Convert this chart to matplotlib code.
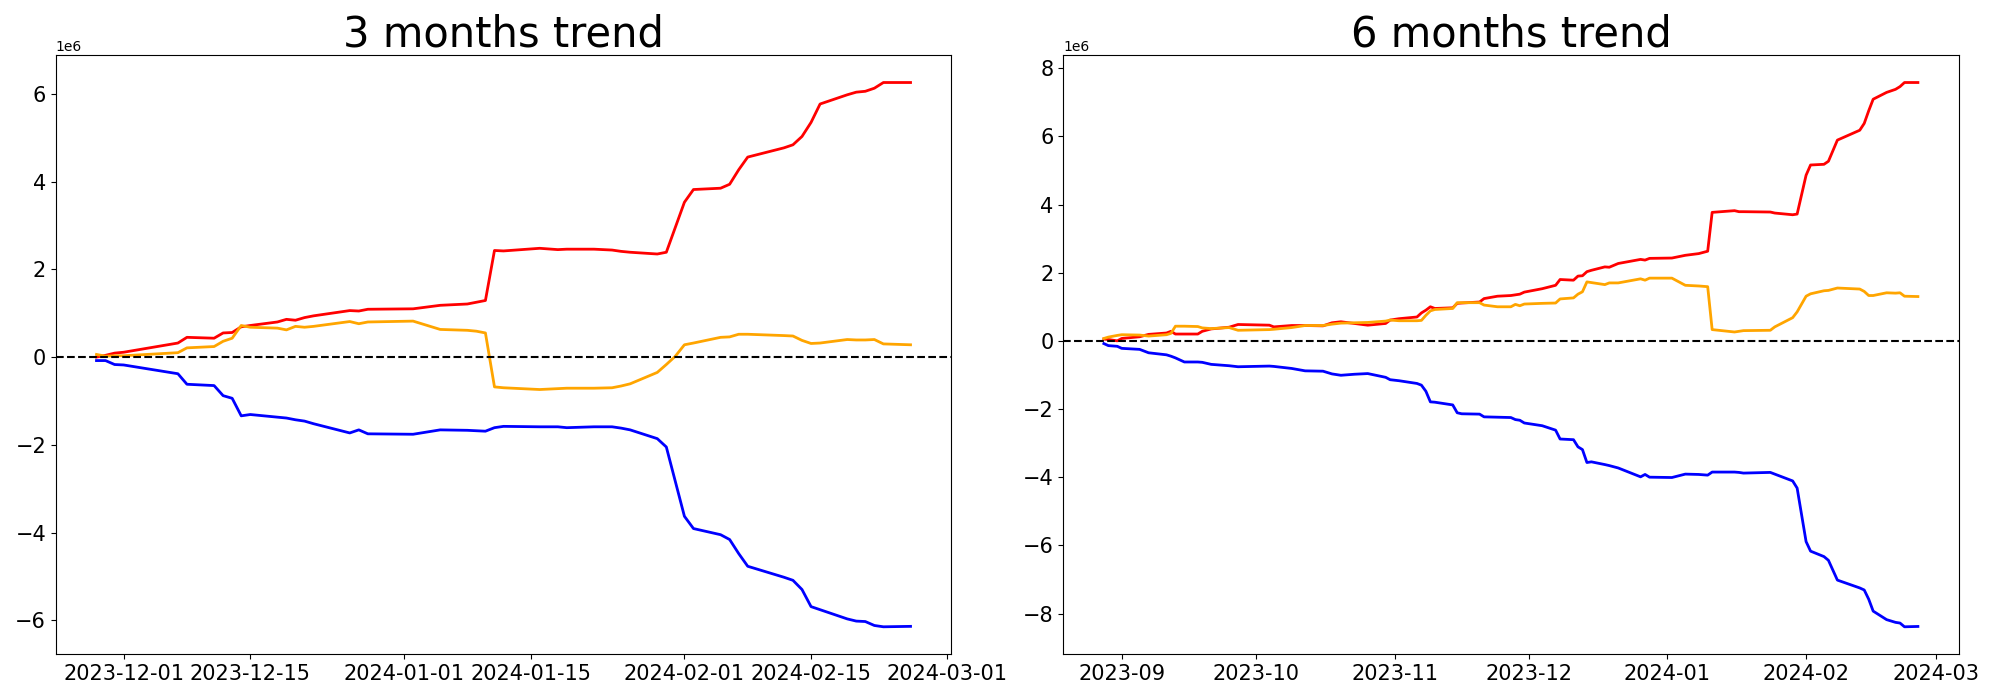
import matplotlib
matplotlib.use("Agg")
import matplotlib.pyplot as plt
import pandas as pd
import numpy as np

# ---------------- 3 months data (values in units of 1e6) ----------------
dates_3m = [
    "2023-11-28", "2023-11-29", "2023-11-30", "2023-12-01", "2023-12-07", "2023-12-08", "2023-12-11", "2023-12-12", "2023-12-13", "2023-12-14",
    "2023-12-15", "2023-12-18", "2023-12-19", "2023-12-20", "2023-12-21", "2023-12-22", "2023-12-26", "2023-12-27", "2023-12-28", "2024-01-02",
    "2024-01-05", "2024-01-08", "2024-01-09", "2024-01-10", "2024-01-11", "2024-01-12", "2024-01-16", "2024-01-18", "2024-01-19", "2024-01-22",
    "2024-01-24", "2024-01-25", "2024-01-26", "2024-01-29", "2024-01-30", "2024-01-31", "2024-02-01", "2024-02-02", "2024-02-05", "2024-02-06",
    "2024-02-07", "2024-02-08", "2024-02-12", "2024-02-13", "2024-02-14", "2024-02-15", "2024-02-16", "2024-02-19", "2024-02-20", "2024-02-21",
    "2024-02-22", "2024-02-23", "2024-02-26",
]
red_3m = [
    0.00, 0.04, 0.09, 0.11, 0.32, 0.45, 0.43, 0.55, 0.56, 0.69,
    0.72, 0.80, 0.86, 0.84, 0.90, 0.94, 1.06, 1.05, 1.09, 1.10,
    1.18, 1.21, 1.25, 1.29, 2.43, 2.42, 2.48, 2.45, 2.46, 2.46,
    2.44, 2.41, 2.39, 2.35, 2.39, 2.96, 3.53, 3.82, 3.85, 3.94,
    4.27, 4.56, 4.77, 4.84, 5.03, 5.35, 5.77, 5.98, 6.04, 6.06,
    6.13, 6.26, 6.26,
]
blue_3m = [
    -0.08, -0.08, -0.17, -0.18, -0.38, -0.62, -0.65, -0.88, -0.94, -1.34,
    -1.31, -1.37, -1.39, -1.43, -1.46, -1.52, -1.73, -1.66, -1.75, -1.76,
    -1.66, -1.67, -1.68, -1.69, -1.61, -1.58, -1.59, -1.59, -1.61, -1.59,
    -1.59, -1.62, -1.66, -1.86, -2.05, -2.84, -3.63, -3.91, -4.05, -4.16,
    -4.48, -4.77, -5.02, -5.09, -5.30, -5.69, -5.76, -5.97, -6.02, -6.03,
    -6.12, -6.15, -6.14,
]
orange_3m = [
    0.06, 0.02, 0.03, 0.03, 0.10, 0.21, 0.24, 0.36, 0.43, 0.72,
    0.68, 0.66, 0.62, 0.70, 0.68, 0.70, 0.81, 0.76, 0.80, 0.82,
    0.63, 0.61, 0.59, 0.55, -0.68, -0.70, -0.74, -0.72, -0.71, -0.71,
    -0.70, -0.66, -0.61, -0.35, -0.17, 0.02, 0.28, 0.32, 0.45, 0.46,
    0.52, 0.52, 0.49, 0.48, 0.38, 0.31, 0.32, 0.40, 0.39, 0.39,
    0.40, 0.30, 0.28,
]

# ---------------- 6 months data (values in units of 1e6) ----------------
dates_6m = [
    "2023-08-28", "2023-08-29", "2023-08-31", "2023-09-01", "2023-09-05", "2023-09-07", "2023-09-11", "2023-09-12", "2023-09-13", "2023-09-15",
    "2023-09-18", "2023-09-19", "2023-09-21", "2023-09-25", "2023-09-27", "2023-10-04", "2023-10-05", "2023-10-09", "2023-10-12", "2023-10-16",
    "2023-10-18", "2023-10-20", "2023-10-23", "2023-10-26", "2023-10-30", "2023-10-31", "2023-11-02", "2023-11-06", "2023-11-07", "2023-11-08",
    "2023-11-09", "2023-11-10", "2023-11-14", "2023-11-15", "2023-11-16", "2023-11-20", "2023-11-21", "2023-11-24", "2023-11-27", "2023-11-28",
    "2023-11-29", "2023-11-30", "2023-12-04", "2023-12-07", "2023-12-08", "2023-12-11", "2023-12-12", "2023-12-13", "2023-12-14", "2023-12-15",
    "2023-12-18", "2023-12-19", "2023-12-21", "2023-12-26", "2023-12-27", "2023-12-28", "2024-01-02", "2024-01-05", "2024-01-08", "2024-01-10",
    "2024-01-11", "2024-01-16", "2024-01-17", "2024-01-18", "2024-01-24", "2024-01-25", "2024-01-29", "2024-01-30", "2024-02-01", "2024-02-02",
    "2024-02-05", "2024-02-06", "2024-02-08", "2024-02-13", "2024-02-14", "2024-02-15", "2024-02-16", "2024-02-19", "2024-02-21", "2024-02-22",
    "2024-02-23", "2024-02-26",
]
red_6m = [
    0.05, 0.04, 0.00, 0.07, 0.12, 0.19, 0.23, 0.28, 0.20, 0.20,
    0.20, 0.28, 0.35, 0.40, 0.48, 0.46, 0.41, 0.45, 0.45, 0.44,
    0.53, 0.56, 0.51, 0.46, 0.51, 0.61, 0.65, 0.70, 0.82, 0.90,
    1.00, 0.95, 0.97, 1.10, 1.11, 1.14, 1.24, 1.31, 1.33, 1.35,
    1.37, 1.43, 1.53, 1.63, 1.80, 1.78, 1.90, 1.91, 2.03, 2.07,
    2.17, 2.16, 2.27, 2.39, 2.37, 2.42, 2.43, 2.51, 2.56, 2.63,
    3.77, 3.82, 3.79, 3.79, 3.78, 3.75, 3.70, 3.72, 4.86, 5.16,
    5.18, 5.27, 5.89, 6.18, 6.38, 6.75, 7.09, 7.29, 7.38, 7.46,
    7.58, 7.58,
]
blue_6m = [
    -0.08, -0.14, -0.16, -0.22, -0.25, -0.35, -0.41, -0.45, -0.50, -0.62,
    -0.62, -0.63, -0.69, -0.73, -0.76, -0.74, -0.75, -0.81, -0.88, -0.89,
    -0.97, -1.01, -0.98, -0.96, -1.07, -1.14, -1.17, -1.25, -1.30, -1.48,
    -1.79, -1.80, -1.88, -2.11, -2.14, -2.15, -2.23, -2.24, -2.25, -2.31,
    -2.33, -2.41, -2.49, -2.62, -2.88, -2.90, -3.11, -3.19, -3.57, -3.55,
    -3.63, -3.66, -3.73, -3.99, -3.92, -4.00, -4.01, -3.91, -3.92, -3.94,
    -3.85, -3.85, -3.86, -3.88, -3.86, -3.91, -4.11, -4.32, -5.89, -6.17,
    -6.33, -6.44, -7.02, -7.25, -7.31, -7.58, -7.93, -8.18, -8.26, -8.28,
    -8.39, -8.38,
]
orange_6m = [
    0.07, 0.11, 0.16, 0.18, 0.17, 0.14, 0.18, 0.22, 0.43, 0.43,
    0.42, 0.38, 0.36, 0.39, 0.31, 0.33, 0.34, 0.39, 0.45, 0.45,
    0.49, 0.52, 0.53, 0.54, 0.58, 0.61, 0.59, 0.59, 0.60, 0.75,
    0.88, 0.92, 0.95, 1.12, 1.12, 1.12, 1.05, 1.00, 1.00, 1.07,
    1.03, 1.08, 1.10, 1.11, 1.23, 1.26, 1.37, 1.44, 1.73, 1.71,
    1.65, 1.70, 1.70, 1.82, 1.78, 1.84, 1.84, 1.63, 1.61, 1.59,
    0.33, 0.26, 0.28, 0.30, 0.31, 0.41, 0.68, 0.85, 1.31, 1.38,
    1.47, 1.48, 1.55, 1.52, 1.45, 1.33, 1.33, 1.41, 1.40, 1.41,
    1.31, 1.30,
]

titles = ["3 months trend", "6 months trend"]
SCALE = 1e6

fig, axes = plt.subplots(1, 2, figsize=(20, 7), dpi=100)
fig.subplots_adjust(left=0.0279, right=0.9793, bottom=0.0657, top=0.921, wspace=0.125)

panels = [
    (dates_3m, red_3m, blue_3m, orange_3m),
    (dates_6m, red_6m, blue_6m, orange_6m),
]
for ax, title, (d, r, b, o) in zip(axes, titles, panels):
    assert len(d) == len(r) == len(b) == len(o)
    x = pd.to_datetime(d)
    ax.plot(x, np.array(r) * SCALE, color="red", lw=2)
    ax.plot(x, np.array(b) * SCALE, color="blue", lw=2)
    ax.plot(x, np.array(o) * SCALE, color="orange", lw=2)
    ax.axhline(0, color="black", linestyle="--", lw=1.5)
    ax.set_title(title, fontsize=30)
    ax.tick_params(axis="both", labelsize=15)

fig.savefig("out.png", dpi=100)
